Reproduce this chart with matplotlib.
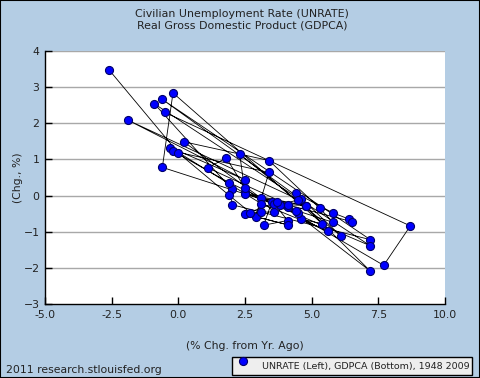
import matplotlib
matplotlib.use("Agg")
import matplotlib.pyplot as plt
from matplotlib.patches import Rectangle
import numpy as np

# annual data 1949-2009
years = list(range(1949, 2010))
gdp_growth = [-0.5, 8.7, 7.7, 3.8, 4.6, -0.6, 7.2, 2.0, 2.0, -0.9,
              7.2, 2.5, 2.3, 6.1, 4.4, 5.8, 6.4, 6.5, 2.5, 4.8,
              3.1, 0.2, 3.4, 5.3, 5.8, -0.6, -0.2, 5.4, 4.6, 5.6,
              3.1, -0.3, 2.5, -1.9, 4.5, 7.2, 4.1, 3.5, 3.2, 4.1,
              3.6, 1.9, -0.2, 3.4, 2.9, 4.1, 2.5, 3.7, 4.5, 4.4,
              4.8, 4.1, 1.1, 1.8, 2.5, 3.6, 3.1, 2.7, 1.9, 0.0,
              -2.6]
unrate_chg = [2.30, -0.84, -1.93, -0.25, -0.10, 2.66, -1.22, -0.25, 0.18, 2.54,
              -1.39, 0.09, 1.15, -1.12, 0.07, -0.48, -0.65, -0.72, 0.05, -0.28,
              -0.07, 1.49, 0.97, -0.35, -0.74, 0.78, 2.84, -0.78, -0.65, -0.98,
              -0.22, 1.33, 0.44, 2.09, -0.11, -2.09, -0.32, -0.19, -0.82, -0.69,
              -0.23, 0.36, 1.23, 0.64, -0.58, -0.81, -0.51, -0.18, -0.47, -0.44,
              -0.28, -0.25, 0.77, 1.04, 0.21, -0.45, -0.46, -0.47, 0.01, 1.18,
              3.48]

x_ticks = [-5.0, -2.5, 0.0, 2.5, 5.0, 7.5, 10.0]
y_ticks = [-3, -2, -1, 0, 1, 2, 3, 4]

bg = "#B4CDE4"
W, H = 480, 378
fig = plt.figure(figsize=(W / 100, H / 100), dpi=100, facecolor=bg)
ax = fig.add_axes([45 / W, (H - 304) / H, 400 / W, 253 / H])
ax.set_facecolor("white")

ax.plot(gdp_growth, unrate_chg, color="black", lw=0.6, zorder=2)
ax.plot(gdp_growth, unrate_chg, ls="none", marker="o", ms=5.8,
        mfc="#0000FF", mec="#00006A", mew=0.8, zorder=3)

ax.set_xlim(-5, 10)
ax.set_ylim(-3, 4)
ax.set_xticks(x_ticks)
ax.set_xticklabels(["%.1f" % t for t in x_ticks])
ax.set_yticks(y_ticks)
for y in y_ticks[1:]:
    ax.axhline(y, color="#A8A8A8", lw=1, zorder=1)

for s in ["top", "right"]:
    ax.spines[s].set_visible(False)
for s in ["left", "bottom"]:
    ax.spines[s].set_color("black")
    ax.spines[s].set_linewidth(1)
ax.tick_params(direction="in", length=5, width=1, color="black",
               labelsize=7.8, labelcolor="#222222", pad=4)

ax.set_ylabel("(Chg., %)", fontsize=7.8, color="#222222")
ax.yaxis.set_label_coords(-27 / 400, 0.5)
ax.set_xlabel("(% Chg. from Yr. Ago)", fontsize=7.8, color="#222222")
ax.xaxis.set_label_coords(0.5, -42 / 253)
ax.xaxis.label.set_va("center")
ax.yaxis.label.set_va("center")

fig.text(242 / W, 1 - 14 / H, "Civilian Unemployment Rate (UNRATE)",
         ha="center", va="center", fontsize=7.9, color="#222222")
fig.text(242 / W, 1 - 26 / H, "Real Gross Domestic Product (GDPCA)",
         ha="center", va="center", fontsize=7.9, color="#222222")
fig.text(6 / W, 1 - 370 / H, "2011 research.stlouisfed.org",
         ha="left", va="center", fontsize=7.8, color="#222222")

# legend box
fig.patches.append(Rectangle((232 / W, 1 - 375 / H), 240 / W, 18 / H,
                             transform=fig.transFigure, facecolor="#EEEEEE",
                             edgecolor="black", lw=1))
fig.lines.append(plt.Line2D([243 / W], [1 - 361 / H], transform=fig.transFigure,
                            marker="o", ms=5.8, mfc="#0000FF", mec="#00006A", mew=0.8))
fig.text(262 / W, 1 - 366 / H, "UNRATE (Left), GDPCA (Bottom), 1948 2009",
         ha="left", va="center", fontsize=6.8, color="#222222")

# outer frame
fig.patches.append(Rectangle((0, 0), 1, 1, transform=fig.transFigure,
                             fill=False, edgecolor="black", lw=1.5))

fig.savefig("out.png", dpi=100, facecolor=bg)
